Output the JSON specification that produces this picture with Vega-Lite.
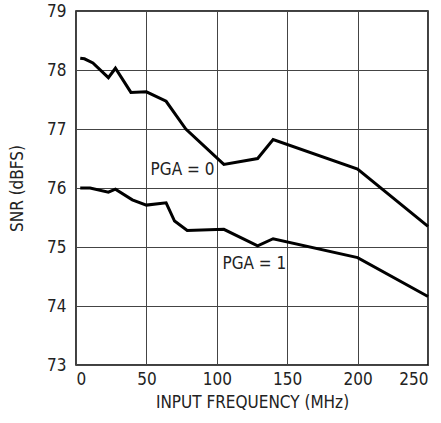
{
  "$schema": "https://vega.github.io/schema/vega-lite/v6.json",
  "autosize": "none",
  "width": 352,
  "height": 354,
  "padding": {"left": 76, "top": 11, "right": 13, "bottom": 58},
  "config": {
    "font": "DejaVu Sans Condensed",
    "view": {"stroke": "#000", "strokeWidth": 1.5},
    "axis": {
      "labelFont": "DejaVu Sans Condensed",
      "titleFont": "DejaVu Sans Condensed",
      "labelFontSize": 17,
      "titleFontSize": 17,
      "titleFontWeight": "normal",
      "labelColor": "#222",
      "titleColor": "#222",
      "gridColor": "#444",
      "gridOpacity": 1,
      "gridWidth": 1,
      "domain": false,
      "ticks": false
    }
  },
  "datasets": {
    "curves": [
      {"f": 3, "snr": 78.2, "pga": "0"},
      {"f": 6, "snr": 78.19, "pga": "0"},
      {"f": 12, "snr": 78.12, "pga": "0"},
      {"f": 23, "snr": 77.87, "pga": "0"},
      {"f": 28, "snr": 78.03, "pga": "0"},
      {"f": 39, "snr": 77.62, "pga": "0"},
      {"f": 50, "snr": 77.63, "pga": "0"},
      {"f": 64, "snr": 77.47, "pga": "0"},
      {"f": 78, "snr": 77.0, "pga": "0"},
      {"f": 105, "snr": 76.4, "pga": "0"},
      {"f": 129, "snr": 76.5, "pga": "0"},
      {"f": 140, "snr": 76.82, "pga": "0"},
      {"f": 200, "snr": 76.32, "pga": "0"},
      {"f": 250, "snr": 75.35, "pga": "0"},
      {"f": 3, "snr": 76.0, "pga": "1"},
      {"f": 10, "snr": 76.0, "pga": "1"},
      {"f": 23, "snr": 75.93, "pga": "1"},
      {"f": 28, "snr": 75.98, "pga": "1"},
      {"f": 40, "snr": 75.8, "pga": "1"},
      {"f": 50, "snr": 75.71, "pga": "1"},
      {"f": 64, "snr": 75.75, "pga": "1"},
      {"f": 70, "snr": 75.44, "pga": "1"},
      {"f": 79, "snr": 75.28, "pga": "1"},
      {"f": 105, "snr": 75.3, "pga": "1"},
      {"f": 129, "snr": 75.02, "pga": "1"},
      {"f": 140, "snr": 75.14, "pga": "1"},
      {"f": 200, "snr": 74.82, "pga": "1"},
      {"f": 250, "snr": 74.16, "pga": "1"}
    ],
    "labels": [
      {"f": 53, "snr": 76.22, "text": "PGA = 0"},
      {"f": 104, "snr": 74.62, "text": "PGA = 1"}
    ]
  },
  "layer": [
    {
      "data": {"name": "curves"},
      "mark": {"type": "line", "color": "#000", "strokeWidth": 3, "strokeJoin": "miter"},
      "encoding": {
        "x": {
          "field": "f", "type": "quantitative",
          "scale": {"domain": [0, 250], "nice": false},
          "axis": {"values": [0, 50, 100, 150, 200, 250], "format": "d", "title": "INPUT FREQUENCY (MHz)", "labelPadding": 6, "titlePadding": 7}
        },
        "y": {
          "field": "snr", "type": "quantitative",
          "scale": {"domain": [73, 79], "nice": false, "zero": false},
          "axis": {"values": [73, 74, 75, 76, 77, 78, 79], "format": "d", "title": "SNR (dBFS)", "labelPadding": 10, "titlePadding": 20}
        },
        "detail": {"field": "pga"}
      }
    },
    {
      "data": {"name": "labels"},
      "mark": {"type": "text", "align": "left", "baseline": "alphabetic", "fontSize": 17, "font": "DejaVu Sans Condensed", "color": "#222"},
      "encoding": {
        "x": {"field": "f", "type": "quantitative"},
        "y": {"field": "snr", "type": "quantitative"},
        "text": {"field": "text"}
      }
    }
  ]
}
